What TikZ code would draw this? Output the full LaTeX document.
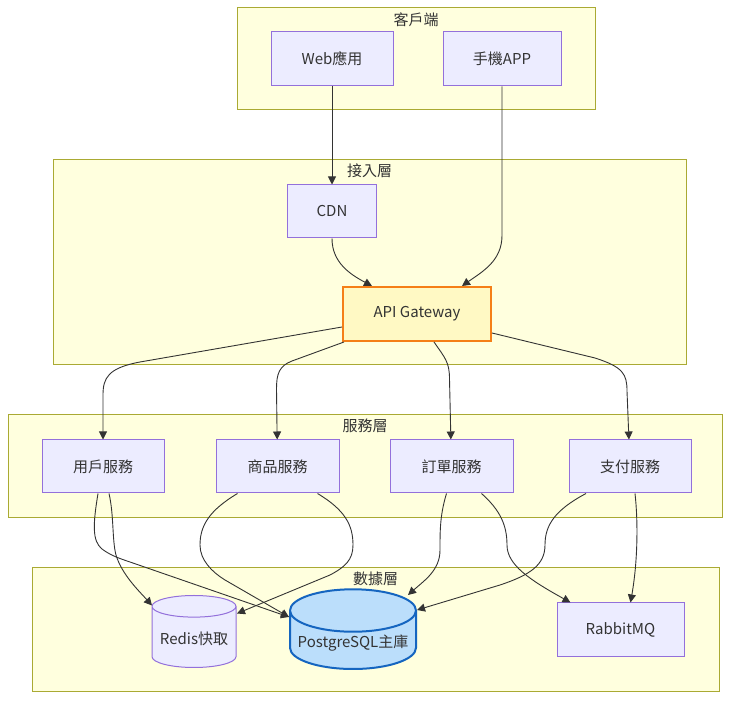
\documentclass[tikz,border=0pt]{standalone}
\usepackage{fontspec}
\setmainfont{Noto Sans CJK TC}
\usetikzlibrary{arrows.meta,positioning,fit,backgrounds,shapes.geometric}
\definecolor{ink}{HTML}{333333}
\definecolor{lanefill}{HTML}{FFFFDE}
\definecolor{laneline}{HTML}{AAAA33}
\definecolor{nodefill}{HTML}{ECECFF}
\definecolor{nodeline}{HTML}{9370DB}
\definecolor{gwfill}{HTML}{FFF9C4}
\definecolor{gwline}{HTML}{F57F17}
\definecolor{pgfill}{HTML}{BBDEFB}
\definecolor{pgline}{HTML}{1565C0}
\tikzset{
  box/.style={draw=nodeline,fill=nodefill,line width=1pt,minimum height=54pt,align=center,
    text=ink,inner sep=4pt},
  gate/.style={box,draw=gwline,fill=gwfill,line width=2pt},
  db/.style={cylinder,shape border rotate=90,aspect=0.3,draw=nodeline,fill=nodefill,
    line width=1pt,text=ink,inner sep=2pt,anchor=south},
  % subgraph frames
  lane/.style={draw=laneline,fill=lanefill,line width=1pt,inner sep=0pt},
  lanetitle/.style={text=ink,inner sep=0pt},
  flow/.style={-{Triangle[length=8pt,width=8pt]},line width=0.9pt,draw=ink},
}

\begin{document}
\begin{tikzpicture}[x=1pt,y=1pt,font=\fontsize{15pt}{18pt}\selectfont]
    \useasboundingbox (0,0) rectangle (739,709);
    % client
    \node[box,minimum width=122pt] (web) at (332,650) {Web應用};
    \node[box,minimum width=118pt,right=49pt of web] (app) {手機APP};

    % access layer
    \node[box,minimum width=89pt,minimum height=53pt] (cdn) at (332,497.5) {CDN};
    \node[gate,minimum width=148pt] (gw) at (417,395) {API Gateway};

    % services
    \node[box,minimum width=122pt,minimum height=53pt] (user) at (103,242.5) {用戶服務};
    \node[box,minimum width=123pt,minimum height=53pt,right=51pt of user] (shop) {商品服務};
    \node[box,minimum width=123pt,minimum height=53pt,right=50pt of shop] (order) {訂單服務};
    \node[box,minimum width=122pt,minimum height=53pt,right=55pt of order] (pay) {支付服務};

    % data layer
    \node[db,minimum width=84pt,minimum height=72pt] (redis) at (194,41) {Redis快取};
    \node[db,aspect=0.37,draw=pgline,fill=pgfill,line width=2pt,minimum width=126pt,minimum height=72pt]
      (pg) at (353,39) {PostgreSQL主庫};
    \node[box,minimum width=127pt] (mq) at (620.5,79) {RabbitMQ};

    \begin{scope}[on background layer]
      \node[lane,fit={(237,599)(595,701)}] (client) {};
      \node[lane,fit={(53,344)(686,549)}] (access) {};
      \node[lane,fit={(8,191)(722,294)}] (svc) {};
      \node[lane,fit={(32,17)(719,141)}] (data) {};
    \end{scope}
    \node[lanetitle] (clientname) at ([yshift=-12pt]client.north) {客戶端};
    \node[lanetitle] (accessname) at ([yshift=-11.5pt]access.north) {接入層};
    \node[lanetitle] (svcname) at ([yshift=-11.5pt]svc.north) {服務層};
    \node[lanetitle] (dataname) at ([yshift=-11.5pt]data.north) {數據層};

    % into the gateway
    \draw[flow] (web) -- (cdn);
    \draw[flow] (app.south) -- ++(0,-149) to[out=-90,in=35] ([xshift=45pt]gw.north);
    \draw[flow] (cdn.south) to[out=-90,in=152] ([xshift=-45pt]gw.north);

    % gateway to services
    \draw[flow] ([yshift=-13pt]gw.west) -- (140,347) .. controls (108,341) and (103,331) .. (103,314) -- (user);
    \draw[flow] ([xshift=2pt]gw.south west) -- (292,348) .. controls (279,343) and (276.5,335) .. (276.5,320) -- (shop);
    \draw[flow] ([xshift=17pt]gw.south) .. controls (445,351) and (449.5,347) .. (449.5,330) -- (order);
    \draw[flow] ([yshift=-19pt]gw.east) -- (595,351) .. controls (623,342) and (627,335) .. (627,318) -- (pay);

    % services to storage
    \draw[flow] ([xshift=-5pt]user.south) .. controls (93,185) and (92,168) .. (102,160)
      .. controls (110,154) and (118,151) .. (130,147) -- ([shift={(-64,53)}]pg.south);
    \draw[flow] ([xshift=6pt]user.south) .. controls (114,194) and (112,169) .. (116,154)
      .. controls (122,134) and (140,117) .. ([shift={(-42,62.5)}]redis.south);
    \draw[flow] ([xshift=40pt]shop.south) .. controls (345,199) and (353,184) .. (353,164)
      .. controls (353,149) and (345,142) .. (330,134) -- ([shift={(43,54.5)}]redis.south);
    \draw[flow] ([xshift=-40pt]shop.south) .. controls (210,199) and (200,184) .. (200,164)
      .. controls (200,149) and (212,137) .. (225,129) -- ([shift={(-64,53)}]pg.south);
    \draw[flow] ([xshift=-5pt]order.south) .. controls (440,194) and (440,179) .. (440,159)
      .. controls (440,139) and (425,129) .. ([shift={(55,75)}]pg.south);
    \draw[flow] ([xshift=30pt]order.south) .. controls (500,199) and (507,184) .. (507,164)
      .. controls (507,144) and (530,129) .. ([xshift=-50pt]mq.north);
    \draw[flow] ([xshift=-44pt]pay.south) .. controls (555,199) and (545,184) .. (545,164)
      .. controls (545,144) and (530,134) .. (500,124) -- ([shift={(64,60)}]pg.south);
    \draw[flow] ([xshift=5pt]pay.south) .. controls (638,189) and (638,149) .. ([xshift=10pt]mq.north);
\end{tikzpicture}
\end{document}
